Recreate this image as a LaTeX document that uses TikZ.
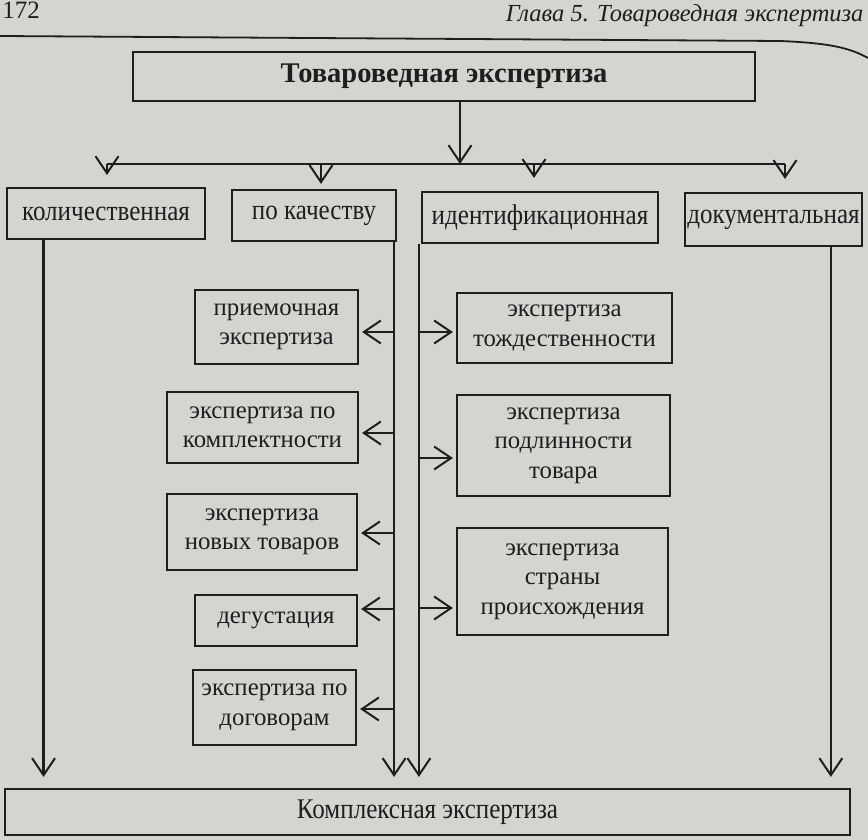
\documentclass[tikz,border=0pt]{standalone}
\usepackage{fontspec}
\setmainfont{Liberation Serif}
\newfontfamily\condfont[FakeStretch=0.88]{Liberation Serif}
\usepackage{tikz}
\usetikzlibrary{arrows.meta, positioning, calc}
\definecolor{PageGray}{RGB}{212,212,209}
\definecolor{InkDark}{RGB}{30,30,30}

\begin{document}
\begin{tikzpicture}[x=1pt, y=-1pt]
        \tikzset{
            main_box/.style={rectangle, draw=InkDark, line width=2.4pt, minimum width=622pt, minimum height=49pt, inner sep=0pt, text=InkDark, font=\fontsize{28.5}{32}\selectfont\bfseries},
            cat_box/.style={rectangle, draw=InkDark, line width=2.2pt, minimum height=51pt, inner sep=0pt, text=InkDark, font=\fontsize{28.5}{31}\condfont},
            sub_box/.style={rectangle, draw=InkDark, line width=2.2pt, align=center, inner sep=0pt, text=InkDark, font=\fontsize{24.8}{29.5}\selectfont},
            link/.style={draw=InkDark, line width=2.2pt},
            arr/.style={link, -{Straight Barb[length=17pt, width=23pt, line width=2pt]}}
        }

        \fill[PageGray] (0,0) rectangle (868,840);
        \useasboundingbox (0,0) rectangle (868,840);

        % running head
        \node[text=InkDark, font=\fontsize{25}{28}\selectfont] (page_no) at (21,10) {172};
        \node[anchor=east, text=InkDark, font=\fontsize{24.5}{27}\selectfont\itshape] (run_head) at (867,16) {Глава 5. Товароведная экспертиза};
        \draw[link, line width=1.8pt] (0,36) -- (780,41) .. controls (830,43) and (850,48) .. (868,58);

        \node[main_box] (tovar) at (444,76.5) {Товароведная экспертиза};

        \node[cat_box, minimum width=198pt] (kolich) at (106,213.5) {количественная};
        \node[cat_box, minimum width=164pt] (kachestvo) at (314,215.5) {по качеству};
        \node[cat_box, minimum width=236pt] (ident) at (540,217.5) {идентификационная};
        \node[cat_box, minimum width=177pt, minimum height=53pt] (dokum) at (773.5,219.5) {документальная};

        \node[sub_box, minimum width=163pt, minimum height=74pt] (priem) at (276.5,327) {приемочная\\экспертиза};
        \node[sub_box, minimum width=191pt, minimum height=71pt] (kompl) at (262.5,427.5) {экспертиза по\\комплектности};
        \node[sub_box, minimum width=190pt, minimum height=76pt] (novye) at (262,532) {экспертиза\\новых товаров};
        \node[sub_box, minimum width=162pt, minimum height=51pt] (degust) at (276,620.5) {дегустация};
        \node[sub_box, minimum width=163pt, minimum height=75pt] (dogovor) at (274.5,707.5) {экспертиза по\\договорам};

        \node[sub_box, minimum width=215pt, minimum height=70pt] (tozhd) at (564.5,328) {экспертиза\\тождественности};
        \node[sub_box, minimum width=213pt, minimum height=101pt] (podlin) at (563.5,445.5) {экспертиза\\подлинности\\товара};
        \node[sub_box, minimum width=211pt, minimum height=107pt] (strana) at (562.5,581.5) {экспертиза\\страны\\происхождения};

        \node[cat_box, minimum width=845pt, minimum height=46pt] (kompleks) at (427.5,812) {Комплексная экспертиза};

        % top distribution bus
        \coordinate (hub) at (460,164);
        \coordinate (bus_l) at (107,164);
        \coordinate (bus_r) at (785,164);
        \draw[arr] (tovar.south -| hub) -- (hub);
        \draw[link] (bus_l) -- (bus_r);
        \draw[arr] (bus_l) -- ++(0,11);
        \coordinate (drop_q) at (321,164);
        \coordinate (drop_i) at (534,164);
        \draw[arr, shorten >=5pt] (drop_q) -- (drop_q |- kachestvo.north);
        \draw[arr, shorten >=13pt] (drop_i) -- (drop_i |- ident.north);
        \draw[arr, shorten >=13pt] (bus_r) -- (bus_r |- dokum.north);

        % verticals to the bottom box
        \coordinate (kol_out) at ($(kolich.south west)!0.188!(kolich.south east)$);
        \coordinate (dok_out) at ($(dokum.south west)!0.82!(dokum.south east)$);
        \coordinate (q_out) at ([xshift=-3pt]kachestvo.south east);
        \coordinate (i_out) at ([xshift=-2pt]ident.south west);
        \draw[arr, shorten >=11pt] (kol_out) -- (kol_out |- kompleks.north);
        \draw[arr, shorten >=11pt] (q_out) -- (q_out |- kompleks.north);
        \draw[arr, shorten >=11pt] (i_out) -- (i_out |- kompleks.north);
        \draw[arr, shorten >=11pt] (dok_out) -- (dok_out |- kompleks.north);

        % branches
        \foreach \y/\n in {332/priem, 433/kompl, 533/novye, 609/degust, 709/dogovor} {
            \coordinate (b) at (q_out |- 0,\y);
            \draw[arr, shorten >=3pt] (b) -- (b -| \n.east);
        }
        \foreach \y/\n in {332/tozhd, 458/podlin, 608/strana} {
            \coordinate (b) at (i_out |- 0,\y);
            \draw[arr, shorten >=3pt] (b) -- (b -| \n.west);
        }

    \end{tikzpicture}
\end{document}
